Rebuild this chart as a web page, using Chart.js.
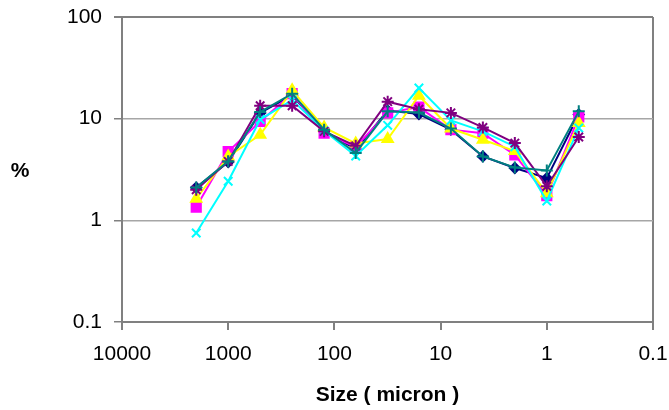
<!DOCTYPE html>
<html>
<head>
<meta charset="utf-8">
<script src="https://cdn.jsdelivr.net/npm/chart.js@4.4.1/dist/chart.umd.min.js"></script>
<style>
  html, body { margin: 0; padding: 0; background: #fff; }
</style>
</head>
<body>
<canvas id="chart" width="669" height="410"></canvas>
<script>
// sieve / laser sizes in micron
const sizes = [2000, 1000, 500, 250, 125, 63, 31.5, 16, 8, 4, 2, 1, 0.5];

// % retained per size, one array per sample
const sample1 = [2.1, 3.75, 11.4, 17.0, 7.6, 5.0, 12.0, 11.1, 7.8, 4.25, 3.27, 2.6, 11.0];
const sample2 = [1.35, 4.75, 9.4, 17.6, 7.2, 5.3, 11.4, 13.0, 7.8, 7.2, 4.4, 1.75, 10.4];
const sample3 = [1.63, 4.25, 6.95, 19.0, 8.2, 5.7, 6.3, 16.8, 8.0, 6.2, 4.8, 1.85, 9.05];
const sample4 = [0.75, 2.42, 9.8, 15.3, 7.6, 4.3, 8.6, 20.0, 9.6, 7.5, 5.3, 1.55, 8.1];
const sample5 = [2.0, 3.8, 13.4, 13.4, 7.5, 5.4, 14.7, 12.4, 11.4, 8.2, 5.75, 2.16, 6.6];
const sample6 = [2.1, 3.8, 11.6, 17.6, 7.8, 4.6, 11.8, 11.5, 8.0, 4.25, 3.3, 3.1, 11.8];

const xTicks = [10000, 1000, 100, 10, 1, 0.1];
const yTicks = [0.1, 1, 10, 100];

const FONT = "'Liberation Sans', Arial, sans-serif";

function toPoints(values) {
    return values.map((v, i) => ({x: sizes[i], y: v}));
}

// excel-ish series styles
const styles = [
    {data: sample1, color: '#000080', point: 'rectRot', radius: 5},
    {data: sample2, color: '#ff00ff', point: 'rect', radius: 6.5},
    {data: sample3, color: '#ffff00', point: 'triangle', radius: 6},
    {data: sample4, color: '#00ffff', point: 'crossRot', radius: 6},
    {data: sample5, color: '#800080', point: 'star', radius: 6},
    {data: sample6, color: '#008080', point: 'cross', radius: 6},
];

const datasets = styles.map((s, i) => ({
    label: 'Sample ' + (i + 1),
    data: toPoints(s.data),
    borderColor: s.color,
    backgroundColor: s.color,
    borderWidth: 2,
    pointStyle: s.point,
    pointRadius: s.radius,
    pointBorderWidth: 2,
    pointBorderColor: s.color,
    pointBackgroundColor: s.color,
    tension: 0,
    order: styles.length - i, // later series on top, like excel
}));

// "%" sits horizontally left of the plot
const yTitle = {
    id: 'yTitle',
    afterDraw(chart) {
        const {ctx, chartArea} = chart;
        ctx.save();
        ctx.font = 'bold 21px ' + FONT;
        ctx.fillStyle = '#000';
        ctx.textAlign = 'center';
        ctx.textBaseline = 'middle';
        ctx.fillText('%', 20, (chartArea.top + chartArea.bottom) / 2 + 2);
        ctx.restore();
    }
};

new Chart(document.getElementById('chart'), {
    type: 'line',
    data: {datasets: datasets},
    options: {
        responsive: false,
        animation: false,
        devicePixelRatio: 1,
        layout: {padding: {top: 17, right: 16, left: 0, bottom: 0}},
        plugins: {
            legend: {display: false},
            tooltip: {enabled: false},
        },
        scales: {
            x: {
                type: 'logarithmic',
                reverse: true,
                min: 0.1,
                max: 10000,
                afterBuildTicks: (scale) => { scale.ticks = xTicks.map(v => ({value: v})); },
                afterFit: (scale) => {
                    scale.height = 88;
                    scale.paddingLeft = 0;
                    scale.paddingRight = 0;
                },
                ticks: {
                    color: '#000',
                    font: {family: FONT, size: 21},
                    padding: 12,
                    maxRotation: 0,
                    callback: (v) => String(v),
                },
                grid: {
                    color: (c) => (c.tick && c.tick.value === 0.1) ? '#808080' : 'rgba(0,0,0,0)',
                    lineWidth: 2,
                    tickColor: '#808080',
                    tickLength: 8,
                },
                border: {color: '#808080', width: 2},
                title: {
                    display: true,
                    text: 'Size ( micron )',
                    color: '#000',
                    font: {family: FONT, size: 21, weight: 'bold'},
                    padding: {top: 0, bottom: 2},
                },
            },
            y: {
                type: 'logarithmic',
                min: 0.1,
                max: 100,
                afterBuildTicks: (scale) => { scale.ticks = yTicks.map(v => ({value: v})); },
                afterFit: (scale) => {
                    scale.width = 122;
                    scale.paddingTop = 0;
                    scale.paddingBottom = 0;
                },
                ticks: {
                    color: '#000',
                    font: {family: FONT, size: 21},
                    padding: 12,
                    callback: (v) => String(v),
                },
                grid: {
                    color: (c) => (c.tick && c.tick.value === 100) ? '#808080' : '#a6a6a6',
                    lineWidth: (c) => (c.tick && c.tick.value === 100) ? 2 : 1.5,
                    tickColor: '#808080',
                    tickLength: 8,
                },
                border: {color: '#808080', width: 2},
            },
        },
    },
    plugins: [yTitle],
});
</script>
</body>
</html>
